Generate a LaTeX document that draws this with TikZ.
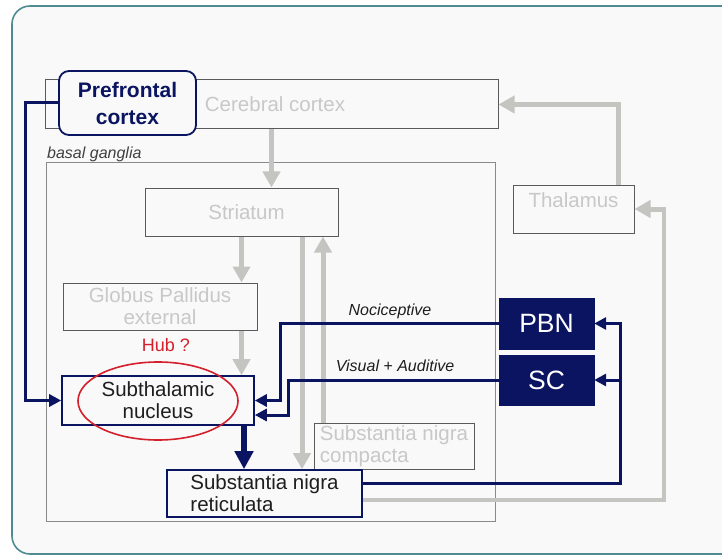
\documentclass[tikz,border=0pt]{standalone}
\usepackage{fontspec}
\setmainfont{Liberation Sans}
\usetikzlibrary{arrows.meta,calc,shapes.geometric}
\definecolor{navyc}{HTML}{0B1461}
\definecolor{garrowc}{HTML}{C4C5C0}
\definecolor{gtextc}{HTML}{C8C8C8}
\definecolor{boxlinec}{HTML}{5A5A5A}
\definecolor{bglinec}{HTML}{8A8A88}
\definecolor{redc}{HTML}{D4202C}
\definecolor{darktextc}{HTML}{1E1E1E}
\definecolor{framec}{HTML}{4E8C92}
\definecolor{paperc}{HTML}{F9F9F9}
\tikzset{
  mainfont/.style={font=\fontsize{20.5}{22}\selectfont},
  graybox/.style={draw=boxlinec, line width=1pt, text=gtextc, inner sep=0pt, align=center, mainfont},
  navybox/.style={draw=navyc, line width=1.6pt, fill=paperc, text=darktextc, inner sep=0pt, align=center, mainfont},
  filledbox/.style={draw=navyc, fill=navyc, text=white, inner sep=0pt, font=\fontsize{26.5}{28}\selectfont},
  garrow/.style={draw=garrowc, line width=5pt, -{Triangle[length=16pt,width=17pt]}},
  gline/.style={draw=garrowc, line width=4pt},
  narrow/.style={draw=navyc, line width=3pt, -{Triangle[length=12pt,width=12pt]}},
  nbigarrow/.style={draw=navyc, line width=6pt, -{Triangle[length=18pt,width=18pt]}},
  lbl/.style={font=\fontsize{16}{18}\selectfont\itshape, text=darktextc, inner sep=0pt},
}
\begin{document}
\begin{tikzpicture}[x=1pt,y=-1pt]
\useasboundingbox (0,0) rectangle (722,556);
\clip (0,0) rectangle (722,556);
\fill[white] (0,0) rectangle (722,556);
\draw[draw=framec, line width=1.6pt, fill=paperc, rounded corners=18pt] (12,6) rectangle (760,554);

% boxes
\node[graybox, minimum width=453pt, minimum height=49pt] (ctx) at (271.5,104.5) {\hspace*{7pt}Cerebral cortex};
\node[draw=bglinec, line width=1pt, minimum width=449pt, minimum height=358pt, inner sep=0pt] (bg) at (270.5,342) {};
\node[lbl, anchor=base west, text=darktextc!85] (bglabel) at (47,159) {basal ganglia};
\node[graybox, minimum width=193pt, minimum height=48pt] (str) at (241.5,212) {\hspace*{10pt}Striatum};
\node[graybox, text height=22pt, text depth=26pt, minimum width=121pt] (thal) at (573.5,209) {Thalamus};
\node[graybox, minimum width=194pt, minimum height=47pt] (gpe) at (160,306.5) {Globus Pallidus\\external};
\node[navybox, minimum width=192pt, minimum height=49pt] (stn) at (158,400.5) {Subthalamic\\nucleus};
\node[draw=redc, line width=1.6pt, ellipse, minimum width=160pt, minimum height=78pt, inner sep=0pt] (hubring) at (158,401) {};
\node[text=redc, font=\fontsize{18}{20}\selectfont, inner sep=0pt] (hub) at (166,345) {Hub ?};
\node[graybox, align=left, minimum width=160pt, minimum height=46pt] (snc) at (394,446) {Substantia nigra\\compacta};
\node[navybox, align=left, minimum width=195pt, minimum height=47pt] (snr) at (264.5,493.5) {Substantia nigra\\reticulata};
\node[filledbox, minimum width=95pt, minimum height=51pt] (pbn) at (546.5,323.5) {PBN};
\node[filledbox, minimum width=95pt, minimum height=50pt] (sc) at (546.5,380) {SC};
\node[draw=navyc, line width=1.8pt, fill=paperc, rounded corners=10pt, minimum width=137pt, minimum height=64pt, inner sep=0pt, align=center, text=navyc, font=\fontsize{21}{27}\selectfont\bfseries] (pfc) at (127.5,103) {Prefrontal\\cortex};

% helper coordinates
\coordinate (xsnr) at (302,0);
\coordinate (xsnc) at (323,0);
\coordinate (xthal) at (618,0);
\coordinate (xright) at (664,0);
\coordinate (xnav) at (620,0);
\coordinate (xnoci) at (280,0);
\coordinate (xvis) at (288,0);
\coordinate (xpfc) at (25,0);
\coordinate (xstn) at (244,0);

% gray connectors
\draw[garrow] (ctx.south) -- (ctx.south |- str.north);
\draw[garrow] (str.south) -- (str.south |- gpe.north);
\draw[garrow] (gpe.south -| str.south) -- (stn.north -| str.south);
\draw[garrow] (str.south -| xsnr) -- (snr.north -| xsnr);
\draw[garrow] (snc.north -| xsnc) -- (str.south -| xsnc);
\draw[garrow] (thal.north -| xthal) |- (ctx.east);
\draw[gline] ($(snr.east)+(0,6.5)$) -| (xright |- thal.east);
\draw[garrow] ($(xright |- thal.east)+(2,0)$) -- (thal.east);

% navy connectors
\draw[narrow] ($(snr.east)+(0,-10.5)$) -| (xnav |- pbn.east) -- (pbn.east);
\draw[narrow] (xnav |- sc.east) -- (sc.east);
\draw[narrow] (pbn.west) -| (xnoci |- stn.east) -- (stn.east);
\draw[narrow] (sc.west) -| ($(xvis |- stn.east)+(0,14.5)$) -- ($(stn.east)+(0,14.5)$);
\draw[narrow] (pfc.west) -| (xpfc |- stn.west) -- (stn.west);
\draw[nbigarrow] (stn.south -| xstn) -- (snr.north -| xstn);

% labels
\node[lbl, anchor=base] (noci) at (390,315) {Nociceptive};
\node[lbl, anchor=base] (visaud) at (395,371) {Visual + Auditive};
\end{tikzpicture}
\end{document}
